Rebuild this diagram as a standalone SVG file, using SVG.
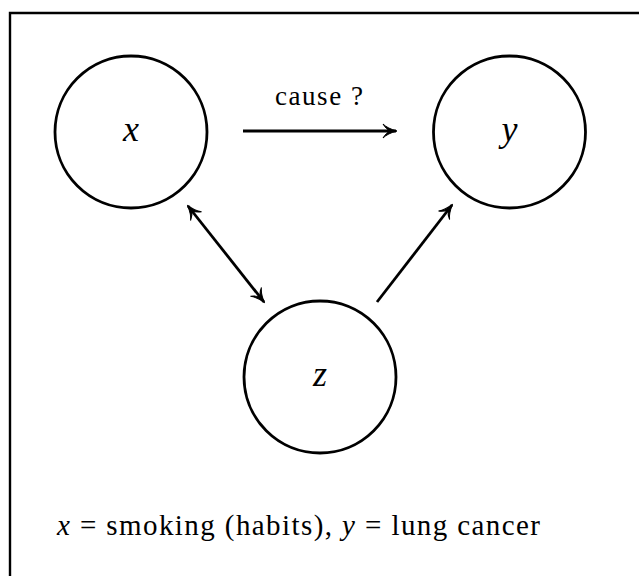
<svg xmlns="http://www.w3.org/2000/svg" width="639" height="576" viewBox="0 0 639 576">
  <style>
    .node { fill: none; stroke: #000; stroke-width: 2.8; }
    .edge { fill: none; stroke: #000; stroke-width: 2.8; }
    .var { font-family: "Liberation Serif", serif; font-style: italic; font-size: 36px; fill: #000; }
    .lbl { font-family: "Liberation Serif", serif; font-size: 27px; fill: #000; }
    .foot { font-family: "Liberation Serif", serif; font-size: 29px; fill: #000; }
  </style>
  <defs>
    <marker id="head" markerUnits="userSpaceOnUse" markerWidth="20" markerHeight="20" refX="0" refY="0" viewBox="-16 -10 20 20" orient="auto-start-reverse" overflow="visible">
      <path d="M1,0 C-5,-1.5 -10,-4 -13,-7 C-11,-3.5 -8,-1 -6,0 C-8,1 -11,3.5 -13,7 C-10,4 -5,1.5 1,0 Z" fill="#000" stroke="#000" stroke-width="1"/>
    </marker>
  </defs>

  <rect width="639" height="576" fill="#fff"/>
  <!-- outer frame, runs off the right and bottom edges -->
  <path d="M10,640 L10,13 L660,13" fill="none" stroke="#000" stroke-width="2.4"/>

  <g id="node-x">
    <circle class="node" cx="131" cy="132" r="76"/>
    <text class="var" x="131" y="141" text-anchor="middle">x</text>
  </g>
  <g id="node-y">
    <circle class="node" cx="509.5" cy="132" r="76"/>
    <text class="var" x="509.5" y="141" text-anchor="middle">y</text>
  </g>
  <g id="node-z">
    <circle class="node" cx="320" cy="377" r="76"/>
    <text class="var" x="320" y="386" text-anchor="middle">z</text>
  </g>

  <g id="connectors">
    <line class="edge" x1="243" y1="131" x2="396" y2="131" marker-end="url(#head)"/>
    <line class="edge" x1="188" y1="206" x2="264" y2="302" marker-start="url(#head)" marker-end="url(#head)"/>
    <line class="edge" x1="377" y1="302" x2="452" y2="205" marker-end="url(#head)"/>
    <text class="lbl" x="319" y="105" text-anchor="middle" textLength="88" lengthAdjust="spacing">cause ?</text>
  </g>

  <text class="foot" x="57" y="535" textLength="483" lengthAdjust="spacing"><tspan font-style="italic">x</tspan> = smoking (habits), <tspan font-style="italic">y</tspan> = lung cancer</text>
</svg>
